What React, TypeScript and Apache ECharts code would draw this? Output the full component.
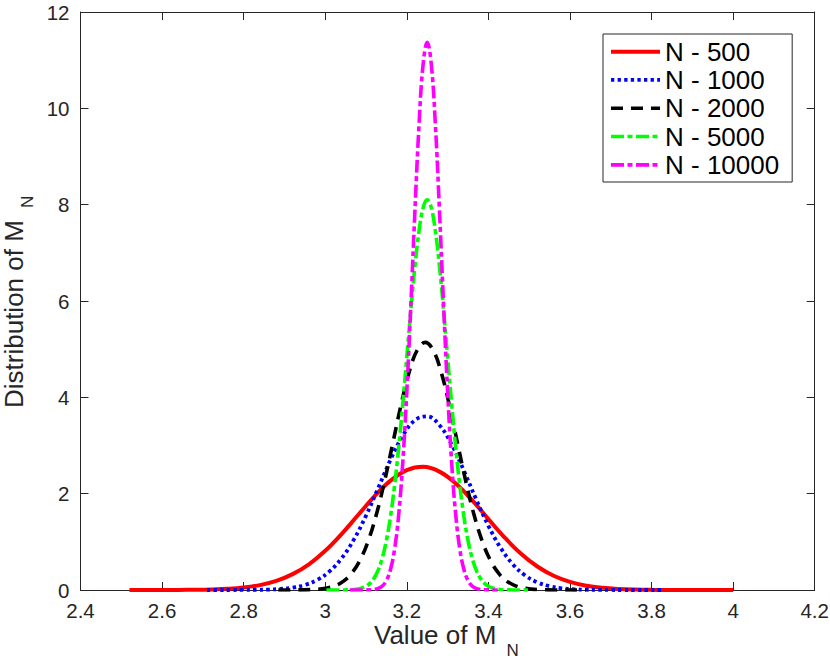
import React, { useEffect, useRef } from "react";
import * as echarts from "echarts";

const FONT = "'Liberation Sans', Arial, Helvetica, sans-serif";

const seriesNames = ["N - 500", "N - 1000", "N - 2000", "N - 5000", "N - 10000"];
const seriesColors = ["#ff0000", "#0000ff", "#000000", "#00ff00", "#ff00ff"];

const xTicks = { min: 2.4, max: 4.2, interval: 0.2 };
const yTicks = { min: 0, max: 12, interval: 2 };

const redX = [2.52, 2.56, 2.6, 2.64, 2.68, 2.72, 2.76, 2.8, 2.84, 2.88, 2.92, 2.96, 3.0, 3.04, 3.08, 3.12, 3.16, 3.2, 3.24,
  3.28, 3.32, 3.36, 3.4, 3.44, 3.48, 3.52, 3.56, 3.6, 3.64, 3.68, 3.72, 3.76, 3.8, 3.84, 3.88, 3.92, 3.96, 4.0];
const redY = [0.0001, 0.0002, 0.0006, 0.0017, 0.0045, 0.0107, 0.024, 0.051, 0.102, 0.189, 0.329, 0.534, 0.814, 1.162, 1.551, 1.939, 2.271, 2.49, 2.557,
  2.457, 2.212, 1.865, 1.472, 1.088, 0.753, 0.488, 0.296, 0.168, 0.089, 0.0445, 0.0208, 0.0091, 0.0037, 0.0014, 0.0005, 0.0002, 0.0001, 0];

const blueX = [2.71, 2.74, 2.77, 2.8, 2.83, 2.86, 2.89, 2.92, 2.95, 2.98, 3.01, 3.04, 3.07, 3.1, 3.13, 3.16, 3.19, 3.22, 3.25,
  3.28, 3.31, 3.34, 3.37, 3.4, 3.43, 3.46, 3.49, 3.52, 3.55, 3.58, 3.61, 3.64, 3.67, 3.7, 3.73, 3.76, 3.79, 3.82, 3.83];
const blueY = [0, 0.0001, 0.0004, 0.0011, 0.0032, 0.0086, 0.0214, 0.049, 0.105, 0.208, 0.383, 0.657, 1.045, 1.544, 2.12, 2.704, 3.204, 3.526, 3.605,
  3.423, 3.02, 2.475, 1.884, 1.333, 0.875, 0.534, 0.303, 0.16, 0.078, 0.0354, 0.0149, 0.0059, 0.0021, 0.0007, 0.0002, 0.0001, 0, 0, 0];

const blackX = [2.885, 2.905, 2.925, 2.945, 2.965, 2.985, 3.005, 3.025, 3.045, 3.065, 3.085, 3.105, 3.125, 3.145, 3.165, 3.185, 3.205, 3.225, 3.245,
  3.265, 3.285, 3.305, 3.325, 3.345, 3.365, 3.385, 3.405, 3.425, 3.445, 3.465, 3.485, 3.505, 3.525, 3.545, 3.565, 3.585, 3.605, 3.625, 3.64];
const blackY = [0.0001, 0.0004, 0.001, 0.0029, 0.0077, 0.0188, 0.043, 0.092, 0.185, 0.349, 0.613, 1.01, 1.555, 2.241, 3.021, 3.812, 4.501, 4.972, 5.14,
  4.972, 4.501, 3.812, 3.021, 2.241, 1.555, 1.01, 0.613, 0.349, 0.185, 0.092, 0.043, 0.0188, 0.0077, 0.0029, 0.001, 0.0004, 0.0001, 0, 0];

const greenX = [3.003, 3.01, 3.02, 3.03, 3.04, 3.05, 3.06, 3.07, 3.08, 3.09, 3.1, 3.11, 3.12, 3.13, 3.14, 3.15, 3.16, 3.17, 3.18, 3.19, 3.2, 3.21, 3.22, 3.23, 3.24, 3.25,
  3.26, 3.27, 3.28, 3.29, 3.3, 3.31, 3.32, 3.33, 3.34, 3.35, 3.36, 3.37, 3.38, 3.39, 3.4, 3.41, 3.42, 3.43, 3.44, 3.45, 3.46, 3.47, 3.48, 3.49, 3.497];
const greenY = [0, 0.0001, 0.0001, 0.0004, 0.0009, 0.0021, 0.0048, 0.0102, 0.021, 0.0414, 0.0785, 0.1426, 0.249, 0.417, 0.669, 1.031, 1.526, 2.166, 2.95, 3.857, 4.839, 5.825, 6.729, 7.459, 7.935, 8.1,
  7.935, 7.459, 6.729, 5.825, 4.839, 3.857, 2.95, 2.166, 1.526, 1.031, 0.669, 0.417, 0.249, 0.1426, 0.0785, 0.0414, 0.021, 0.0102, 0.0048, 0.0021, 0.0009, 0.0004, 0.0001, 0.0001, 0];

const magentaX = [3.06, 3.07, 3.08, 3.09, 3.1, 3.11, 3.12, 3.13, 3.14, 3.15, 3.16, 3.17, 3.18, 3.19, 3.2, 3.21, 3.22, 3.23, 3.24, 3.25,
  3.26, 3.27, 3.28, 3.29, 3.3, 3.31, 3.32, 3.33, 3.34, 3.35, 3.36, 3.37, 3.38, 3.39, 3.4, 3.41, 3.42, 3.423];
const magentaY = [0, 0, 0.0001, 0.0003, 0.0012, 0.004, 0.0119, 0.0328, 0.0835, 0.196, 0.424, 0.845, 1.554, 2.636, 4.119, 5.937, 7.89, 9.666, 10.918, 11.37,
  10.918, 9.666, 7.89, 5.937, 4.119, 2.636, 1.554, 0.845, 0.424, 0.196, 0.0835, 0.0328, 0.0119, 0.004, 0.0012, 0.0003, 0.0001, 0];

const seriesX = [redX, blueX, blackX, greenX, magentaX];
const seriesY = [redY, blueY, blackY, greenY, magentaY];
const lineTypes: any[] = ["solid", [3.3, 3.3], [12, 8], [13, 3.5, 5, 3.5], [13, 3.5, 5, 3.5]];
const lineWidths = [4, 3.8, 3.6, 3.6, 3.6];

const xTitle = "Value of M";
const yTitle = "Distribution of M";
const subTitle = "N";

export default function App() {
  const ref = useRef<HTMLDivElement>(null);

  useEffect(() => {
    document.body.style.margin = "0";
    if (!ref.current) return;
    const chart = echarts.init(ref.current, undefined, { renderer: "svg" });

    const axisLine = { show: true, onZero: false, lineStyle: { color: "#262626", width: 1 } };
    const axisTick = { show: true, inside: true, length: 8, lineStyle: { color: "#262626", width: 1 } };

    const series = seriesNames.map((name, i) => ({
      name,
      type: "line",
      data: seriesX[i].map((x, k) => [x, seriesY[i][k]]),
      symbol: "none",
      showSymbol: false,
      smooth: 0.4,
      lineStyle: { color: seriesColors[i], width: lineWidths[i], type: lineTypes[i], cap: "butt" },
      itemStyle: { color: seriesColors[i] },
      z: 2 + i,
    }));

    chart.setOption({
      animation: false,
      backgroundColor: "#ffffff",
      textStyle: { fontFamily: FONT },
      grid: { left: 80.5, right: 15.3, top: 12, bottom: 69, containLabel: false, outerBoundsMode: "none" },
      xAxis: [
        {
          type: "value", position: "bottom", ...xTicks,
          axisLine, axisTick,
          axisLabel: { color: "#262626", fontSize: 20.5, fontFamily: FONT, margin: 10, lineHeight: 20 },
          splitLine: { show: false },
        },
        {
          type: "value", position: "top", ...xTicks,
          axisLine, axisTick,
          axisLabel: { show: false },
          splitLine: { show: false },
        },
      ],
      yAxis: [
        {
          type: "value", position: "left", ...yTicks,
          axisLine, axisTick,
          axisLabel: { color: "#262626", fontSize: 20.5, fontFamily: FONT, margin: 11 },
          splitLine: { show: false },
        },
        {
          type: "value", position: "right", ...yTicks,
          axisLine, axisTick,
          axisLabel: { show: false },
          splitLine: { show: false },
        },
      ],
      legend: {
        orient: "vertical",
        left: 603,
        top: 34,
        padding: [3.5, 13, 3, 6],
        itemGap: 0,
        itemWidth: 49,
        itemHeight: 14,
        selectedMode: false,
        backgroundColor: "#ffffff",
        borderColor: "#262626",
        borderWidth: 1,
        borderRadius: 0,
        data: seriesNames,
        itemStyle: { opacity: 0, borderWidth: 0 },
        lineStyle: { width: "inherit", opacity: 1 },
        textStyle: { color: "#000000", fontSize: 26, fontFamily: FONT, lineHeight: 28.3, padding: 0 },
      },
      graphic: [
        {
          type: "text", x: 374, y: 635,
          style: { text: xTitle, fill: "#262626", font: `26px ${FONT}`, lineHeight: 22, align: "left", verticalAlign: "middle" },
        },
        {
          type: "text", x: 506.5, y: 650.5,
          style: { text: subTitle, fill: "#262626", font: `17px ${FONT}`, lineHeight: 14, align: "left", verticalAlign: "middle" },
        },
        {
          type: "text", x: 13.5, y: 408, rotation: Math.PI / 2,
          style: { text: yTitle, fill: "#262626", font: `26px ${FONT}`, lineHeight: 22, align: "left", verticalAlign: "middle" },
        },
        {
          type: "text", x: 27.3, y: 208, rotation: Math.PI / 2,
          style: { text: subTitle, fill: "#262626", font: `17px ${FONT}`, lineHeight: 14, align: "left", verticalAlign: "middle" },
        },
      ],
      series,
    });

    return () => chart.dispose();
  }, []);

  return <div ref={ref} style={{ width: 830, height: 659 }} />;
}
